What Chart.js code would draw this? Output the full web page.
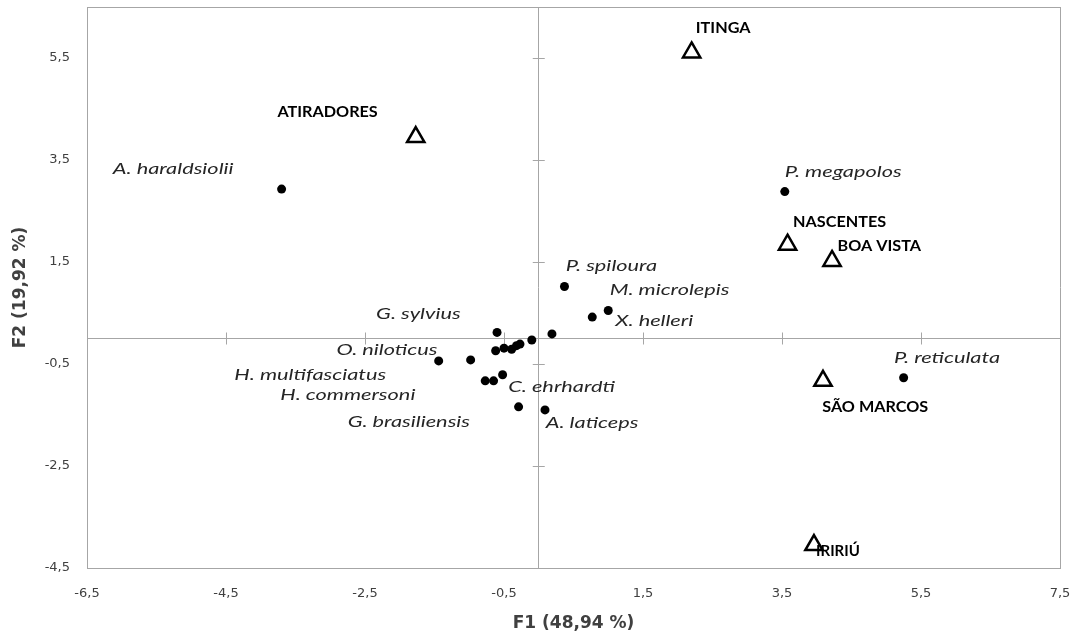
<!DOCTYPE html>
<html>
<head>
<meta charset="utf-8">
<script src="https://cdn.jsdelivr.net/npm/chart.js@4.4.1/dist/chart.umd.min.js"></script>
<style>
  html, body { margin: 0; padding: 0; background: #fff; }
  #wrap { width: 1073px; height: 639px; }
</style>
</head>
<body>
<div id="wrap"><canvas id="pcaChart"></canvas></div>
<script>
// species scores (dots)
const speciesX = [-3.70, 3.54, 5.25, 0.37, 1.00, 0.77, 0.19, -0.60, -0.10, -0.62, -0.50, -0.39, -0.32, -0.27, -1.44, -0.98, -0.77, -0.65, -0.52, -0.29, 0.09];
const speciesY = [2.93, 2.88, -0.77, 1.02, 0.55, 0.42, 0.09, 0.12, -0.03, -0.24, -0.19, -0.21, -0.14, -0.11, -0.44, -0.42, -0.83, -0.83, -0.71, -1.34, -1.40];

// sites (triangles)
const siteX = [2.20, -1.77, 3.58, 4.22, 4.09, 3.96];
const siteY = [5.61, 3.95, 1.84, 1.52, -0.83, -4.05];

// labels
const speciesNames = ["A. haraldsiolii", "P. megapolos", "P. spiloura", "M. microlepis", "X. helleri", "G. sylvius", "O. niloticus",
  "H. multifasciatus", "H. commersoni", "G. brasiliensis", "C. ehrhardti", "A. laticeps", "P. reticulata"];
const speciesLabelX = [-6.13, 3.54, 0.39, 1.02, 1.10, -2.34, -2.91, -4.38, -3.72, -2.75, -0.44, 0.10, 5.11];
const speciesLabelY = [3.32, 3.26, 1.42, 0.95, 0.35, 0.48, -0.22, -0.71, -1.10, -1.63, -0.94, -1.66, -0.37];

const siteNames = ["ITINGA", "ATIRADORES", "NASCENTES", "BOA VISTA", "SÃO MARCOS", "IRIRIÚ"];
const siteLabelX = [2.26, -3.76, 3.66, 4.30, 4.08, 3.99];
const siteLabelY = [6.09, 4.44, 2.28, 1.81, -1.34, -4.16];

const xTicks = [-6.5, -4.5, -2.5, -0.5, 1.5, 3.5, 5.5, 7.5];
const yTicks = [-4.5, -2.5, -0.5, 1.5, 3.5, 5.5];

const axisGray = "#a6a6a6";
const fmt = v => v.toFixed(1).replace(".", ",");

// text in the original is horizontally stretched, so draw it widened
function stretchedText(c, txt, x, y, sx) {
  c.save();
  c.translate(x, y);
  c.scale(sx, 1);
  c.fillText(txt, 0, 0);
  c.restore();
}

const labelPlugin = {
  id: "pointLabels",
  afterDatasetsDraw(chart) {
    const c = chart.ctx, xs = chart.scales.x, ys = chart.scales.y;
    c.save();
    c.textBaseline = "middle";
    c.textAlign = "left";
    c.fillStyle = "#262626";
    c.font = "italic 16px Lato";
    speciesNames.forEach((n, i) => {
      stretchedText(c, n, xs.getPixelForValue(speciesLabelX[i]), ys.getPixelForValue(speciesLabelY[i]), 1.36);
    });
    c.fillStyle = "#000";
    siteNames.forEach((n, i) => {
      c.font = n === "IRIRIÚ" ? "bold 15px 'Liberation Sans Narrow', Lato" : "bold 15px Lato";
      stretchedText(c, n, xs.getPixelForValue(siteLabelX[i]), ys.getPixelForValue(siteLabelY[i]), n === "IRIRIÚ" ? 1 : 1.08);
    });
    c.restore();
  }
};

// zero lines carry small tick marks like the Excel original
const crossTicks = {
  id: "crossTicks",
  beforeDatasetsDraw(chart) {
    const c = chart.ctx, xs = chart.scales.x, ys = chart.scales.y;
    const x0 = xs.getPixelForValue(0), y0 = ys.getPixelForValue(0);
    c.save();
    c.strokeStyle = axisGray;
    c.lineWidth = 1;
    c.beginPath();
    xTicks.slice(1, -1).forEach(v => {
      const p = Math.round(xs.getPixelForValue(v)) + 0.5;
      c.moveTo(p, y0 - 6); c.lineTo(p, y0 + 6);
    });
    yTicks.slice(1).forEach(v => {
      const p = Math.round(ys.getPixelForValue(v)) + 0.5;
      c.moveTo(x0 - 6, p); c.lineTo(x0 + 6, p);
    });
    c.stroke();
    c.restore();
  }
};

const ctx = document.getElementById("pcaChart").getContext("2d");
new Chart(ctx, {
  type: "scatter",
  data: {
    datasets: [
      {
        label: "Espécies",
        data: speciesX.map((x, i) => ({ x: x, y: speciesY[i] })),
        pointStyle: "circle",
        pointRadius: 4.5,
        backgroundColor: "#000",
        borderColor: "#000",
        borderWidth: 0
      },
      {
        label: "Locais",
        data: siteX.map((x, i) => ({ x: x, y: siteY[i] })),
        pointStyle: "triangle",
        pointRadius: 10,
        backgroundColor: "#fff",
        borderColor: "#000",
        borderWidth: 2.5
      }
    ]
  },
  options: {
    responsive: true,
    maintainAspectRatio: false,
    animation: false,
    layout: { autoPadding: false, padding: { top: 7, right: 13, left: 0, bottom: 0 } },
    plugins: {
      legend: { display: false },
      tooltip: { enabled: false }
    },
    scales: {
      x: {
        type: "linear",
        min: -6.5, max: 7.5,
        afterBuildTicks: s => { s.ticks = xTicks.concat([0]).sort((a, b) => a - b).map(v => ({ value: v })); },
        afterFit: s => { s.height = 71; s.paddingLeft = 0; s.paddingRight = 0; },
        grid: { drawTicks: false, color: c => (c.tick.value === 0 || c.tick.value === 7.5) ? axisGray : "rgba(0,0,0,0)", lineWidth: 1 },
        border: { color: axisGray },
        ticks: {
          padding: 18,
          color: "#404040",
          font: { family: "'DejaVu Sans'", size: 13 },
          maxRotation: 0,
          autoSkip: false,
          callback: v => xTicks.includes(v) ? fmt(v) : ""
        },
        title: {
          display: true,
          text: "F1 (48,94 %)",
          color: "#404040",
          font: { family: "'DejaVu Sans'", size: 17, weight: "bold" },
          padding: { top: 0, bottom: 5 }
        }
      },
      y: {
        type: "linear",
        min: -4.5, max: 6.5,
        afterBuildTicks: s => { s.ticks = yTicks.concat([0, 6.5]).sort((a, b) => a - b).map(v => ({ value: v })); },
        afterFit: s => { s.width = 87; s.paddingTop = 0; s.paddingBottom = 0; },
        grid: { drawTicks: false, color: c => (c.tick.value === 0 || c.tick.value === 6.5) ? axisGray : "rgba(0,0,0,0)", lineWidth: 1 },
        border: { color: axisGray },
        ticks: {
          padding: 17,
          color: "#404040",
          font: { family: "'DejaVu Sans'", size: 13 },
          autoSkip: false,
          callback: v => yTicks.includes(v) ? fmt(v) : ""
        },
        title: {
          display: true,
          text: "F2 (19,92 %)",
          color: "#404040",
          font: { family: "'DejaVu Sans'", size: 17, weight: "bold" },
          padding: { top: 10, bottom: 4 }
        }
      }
    }
  },
  plugins: [crossTicks, labelPlugin]
});
</script>
</body>
</html>
